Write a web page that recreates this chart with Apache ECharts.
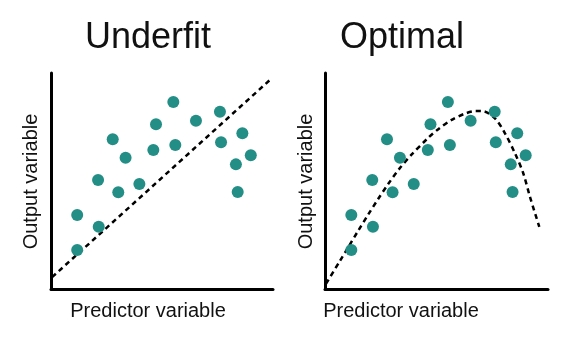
<!DOCTYPE html>
<html>
<head>
<meta charset="utf-8">
<script src="https://cdn.jsdelivr.net/npm/echarts@6/dist/echarts.min.js"></script>
<style>html,body{margin:0;padding:0;background:#fff;}#c{width:567px;height:364px;}</style>
</head>
<body>
<div id="c"></div>
<script>
var titles = ['Underfit', 'Optimal'];
var xLabel = 'Predictor variable';
var yLabel = 'Output variable';
var pointsX = [11.8, 11.8, 21.5, 21.2, 27.8, 30.3, 33.6, 39.8, 46.1, 47.3, 55.1, 56.0, 65.3, 76.1, 76.6, 86.2, 90.0, 83.3, 84.1];
var pointsY = [34.3, 18.1, 28.8, 50.5, 69.3, 44.8, 60.8, 48.6, 64.4, 76.3, 86.6, 66.7, 77.9, 82.1, 67.9, 72.1, 61.9, 57.7, 44.9];
var linearFit = [[0.5, 5.5], [99.5, 97.6]];
var curveX = [0.5, 6.7, 10.4, 14.9, 19.4, 23.9, 28.4, 33.6, 38.9, 46.3, 50.8, 56.8, 62.8, 67.5, 71.0, 76.2, 80.7, 85.2, 88.9, 91.9, 96.1];
var curveY = [2.5, 13.0, 19.3, 27.0, 34.5, 41.8, 48.7, 56.0, 62.3, 70.0, 74.0, 78.3, 81.2, 82.4, 82.3, 79.0, 72.1, 62.8, 53.6, 42.7, 28.8];

var pts = pointsX.map(function (x, i) { return [x, pointsY[i]]; });
var curve = curveX.map(function (x, i) { return [x, curveY[i]]; });

var chart = echarts.init(document.getElementById('c'), null, {renderer: 'canvas'});
var teal = '#238e85';
function xa(i) {
  return {gridIndex: i, type: 'value', min: 0, max: 100,
    axisLine: {show: true, onZero: false, lineStyle: {color: '#000', width: 3}},
    axisTick: {show: false}, axisLabel: {show: false}, splitLine: {show: false}};
}
function ya(i) {
  return {gridIndex: i, type: 'value', min: 0, max: 100,
    axisLine: {show: true, onZero: false, lineStyle: {color: '#000', width: 3}},
    axisTick: {show: false}, axisLabel: {show: false}, splitLine: {show: false}};
}
var font = 'Liberation Sans, Arial, sans-serif';
function txt(t, x, y, size, rot) {
  return {type: 'text', x: x, y: y, rotation: rot || 0,
    style: {text: t, fill: '#111', font: size + 'px ' + font, align: 'center', verticalAlign: 'middle'}};
}
chart.setOption({
  animation: false,
  backgroundColor: '#fff',
  grid: [
    {left: 51, top: 73, width: 222, height: 216},
    {left: 325, top: 73, width: 223, height: 216}
  ],
  xAxis: [xa(0), xa(1)],
  yAxis: [ya(0), ya(1)],
  series: [
    {type: 'line', xAxisIndex: 0, yAxisIndex: 0, data: linearFit, showSymbol: false, z: 1,
      lineStyle: {color: '#000', width: 2.5, type: [5, 4]}},
    {type: 'scatter', xAxisIndex: 0, yAxisIndex: 0, data: pts, symbolSize: 12, z: 2,
      itemStyle: {color: teal, opacity: 1}},
    {type: 'line', xAxisIndex: 1, yAxisIndex: 1, data: curve, showSymbol: false, smooth: 0.3, z: 1,
      lineStyle: {color: '#000', width: 2.5, type: [5, 4]}},
    {type: 'scatter', xAxisIndex: 1, yAxisIndex: 1, data: pts, symbolSize: 12, z: 2,
      itemStyle: {color: teal, opacity: 1}}
  ],
  graphic: [
    txt(titles[0], 148, 38, 36),
    txt(titles[1], 402, 38, 36),
    txt(xLabel, 148, 311, 20),
    txt(xLabel, 401, 311, 20),
    txt(yLabel, 31, 181.5, 20, Math.PI / 2),
    txt(yLabel, 306, 181.5, 20, Math.PI / 2)
  ]
});
</script>
</body>
</html>
